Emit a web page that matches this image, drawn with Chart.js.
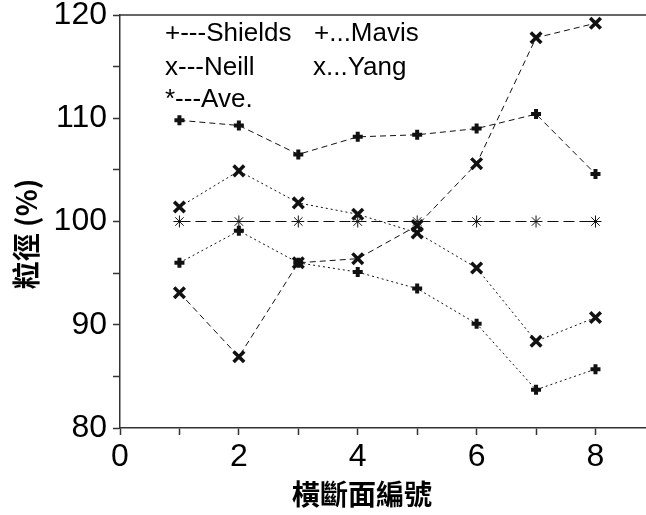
<!DOCTYPE html>
<html>
<head>
<meta charset="utf-8">
<script src="https://cdn.jsdelivr.net/npm/chart.js@4"></script>
<style>
  html, body { margin: 0; padding: 0; background: #fff; overflow: hidden; }
  #wrap { width: 646px; height: 515px; position: relative; }
</style>
</head>
<body>
<div id="wrap"><canvas id="c" width="646" height="515"></canvas></div>
<script>
const categories = [1, 2, 3, 4, 5, 6, 7, 8];
const shields = [109.8, 109.3, 106.5, 108.2, 108.4, 109.0, 110.4, 104.6];
const mavis   = [96.0, 99.1, 96.0, 95.1, 93.5, 90.1, 83.7, 85.7];
const neill   = [93.1, 86.9, 96.0, 96.4, 99.6, 105.6, 117.8, 119.2];
const yang    = [101.4, 104.9, 101.8, 100.7, 98.9, 95.5, 88.4, 90.7];
const ave     = [100, 100, 100, 100, 100, 100, 100, 100];
const xTickValues = [0, 1, 2, 3, 4, 5, 6, 7, 8];
const xTickLabels = [0, 2, 4, 6, 8];
const yTickLabels = [80, 90, 100, 110, 120];
const legendLabels = ['+---Shields', '+...Mavis', 'x---Neill', 'x...Yang', '*---Ave.'];
const xTitle = '橫斷面編號';
const yTitle = '粒徑 (%)';

const pts = arr => categories.map((c, i) => ({ x: c, y: arr[i] }));

const INK = '#111';
const dashed = [6, 4];
const dotted = [2, 3];

function ds(label, arr, style, dash, radius, bw) {
  return {
    label, data: pts(arr),
    borderColor: INK, backgroundColor: INK,
    borderWidth: 1, borderDash: dash,
    pointStyle: style, pointRadius: radius, pointBorderWidth: bw,
    pointBorderColor: INK, pointBackgroundColor: INK,
    tension: 0, fill: false, clip: false
  };
}

function noPad(s) {
  s.paddingTop = 0; s.paddingBottom = 0; s.paddingLeft = 0; s.paddingRight = 0;
}

const decor = {
  id: 'decor',
  afterDraw(chart) {
    const ctx = chart.ctx, a = chart.chartArea;
    ctx.save();
    ctx.strokeStyle = '#333'; ctx.lineWidth = 1.5;
    ctx.beginPath(); ctx.moveTo(a.left, a.top); ctx.lineTo(a.right, a.top); ctx.stroke();
    ctx.fillStyle = '#000';
    ctx.font = '26px "Liberation Sans", Arial, sans-serif';
    ctx.textBaseline = 'alphabetic'; ctx.textAlign = 'left';
    const pos = [[165, 41], [314, 41], [165, 74.5], [313, 74.5], [165, 107]];
    legendLabels.forEach((t, i) => ctx.fillText(t, pos[i][0], pos[i][1]));
    ctx.font = 'bold 28px "Noto Sans CJK TC", sans-serif';
    ctx.textAlign = 'center'; ctx.textBaseline = 'middle';
    ctx.fillText(xTitle, 362, 494);
    ctx.translate(26, 234); ctx.rotate(-Math.PI / 2);
    ctx.fillText(yTitle, 0, 0);
    ctx.restore();
  }
};

new Chart(document.getElementById('c'), {
  type: 'line',
  data: {
    datasets: [
      ds('Shields', shields, 'cross', dashed, 5, 4),
      ds('Mavis', mavis, 'cross', dotted, 5, 4),
      ds('Neill', neill, 'crossRot', dashed, 7.5, 3.5),
      ds('Yang', yang, 'crossRot', dotted, 7.5, 3.5),
      ds('Ave.', ave, 'star', [11, 5], 6, 1)
    ]
  },
  options: {
    responsive: false,
    animation: false,
    layout: { autoPadding: false, padding: { top: 15, right: 0, left: 0, bottom: 0 } },
    plugins: { legend: { display: false }, tooltip: { enabled: false } },
    scales: {
      x: {
        type: 'linear', min: 0, max: 8.85,
        afterFit(s) { s.height = 87; noPad(s); },
        afterBuildTicks(s) { s.ticks = xTickValues.map(v => ({ value: v })); },
        grid: { drawOnChartArea: false, drawTicks: true, tickLength: 7, tickColor: '#333', tickWidth: 1.5 },
        border: { display: true, color: '#333', width: 1.5 },
        ticks: {
          autoSkip: false, maxRotation: 0, padding: 3, color: '#000',
          font: { family: '"Liberation Sans", Arial, sans-serif', size: 32 },
          callback: v => xTickLabels.includes(Math.round(v)) ? String(Math.round(v)) : ''
        }
      },
      y: {
        type: 'linear', min: 80, max: 120,
        afterFit(s) { s.width = 120; noPad(s); },
        grid: { drawOnChartArea: false, drawTicks: true, tickLength: 7, tickColor: '#333', tickWidth: 1.5 },
        border: { display: true, color: '#333', width: 1.5 },
        ticks: {
          stepSize: 5, autoSkip: false, padding: 6, color: '#000',
          font: { family: '"Liberation Sans", Arial, sans-serif', size: 32 },
          callback: v => yTickLabels.includes(v) ? String(v) : ''
        }
      }
    }
  },
  plugins: [decor]
});
</script>
</body>
</html>
